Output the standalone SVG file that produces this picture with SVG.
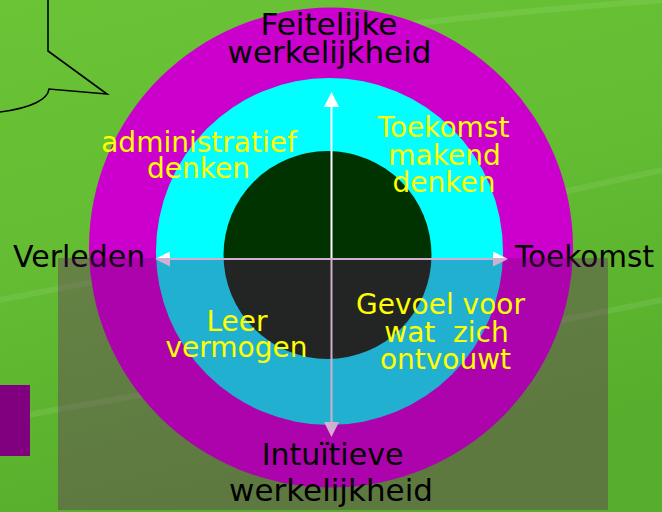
<svg xmlns="http://www.w3.org/2000/svg" width="662" height="512" viewBox="0 0 662 512">
  <defs>
    <linearGradient id="bg" x1="0" y1="0" x2="0.3" y2="1">
      <stop offset="0" stop-color="#6BC436"/>
      <stop offset="0.5" stop-color="#63BC32"/>
      <stop offset="1" stop-color="#57AE2C"/>
    </linearGradient>
    <marker id="ah" viewBox="0 0 10 10" refX="5.33" refY="5" markerWidth="15" markerHeight="15" markerUnits="userSpaceOnUse" orient="auto-start-reverse">
      <path d="M0,0 L10,5 L0,10 Z" fill="#FFFFFF"/>
    </marker>
    <style>
      .lbl { font-family: "DejaVu Sans", "Liberation Sans", sans-serif; fill: #000000; text-anchor: middle; }
      .ylw { font-family: "DejaVu Sans", "Liberation Sans", sans-serif; fill: #FFFF00; text-anchor: middle; font-size: 28px; }
      .axis { stroke: #FFFFFF; stroke-width: 2; fill: none; marker-start: url(#ah); marker-end: url(#ah); }
    </style>
  </defs>

  <rect x="0" y="0" width="662" height="512" fill="url(#bg)"/>
  <g opacity="0.08" stroke="#FFFFFF" stroke-width="6" fill="none">
    <path d="M0,300 C200,260 400,230 662,170"/>
    <path d="M0,420 C220,380 420,350 662,300"/>
    <path d="M300,40 C420,20 540,10 662,0"/>
  </g>

  <rect id="purple-block" x="0" y="385" width="30" height="71" fill="#800080"/>

  <path id="speech-bubble" d="M48,0 L48,51 L107,94 L49,89 C48,99 32,108 0,112" fill="none" stroke="#000000" stroke-width="1.6"/>

  <g id="rings">
    <ellipse id="outer-ring" cx="331" cy="247.5" rx="242" ry="240" fill="#CC00CC"/>
    <circle id="middle-ring" cx="329.5" cy="251.5" r="173.5" fill="#00FFFF"/>
    <circle id="core" cx="327.5" cy="255" r="104" fill="#003300"/>
  </g>

  <g id="connectors">
    <path id="axis-vertical" class="axis" d="M331.5,99 L331.5,430"/>
    <path id="axis-horizontal" class="axis" d="M162,259 L501,259"/>
  </g>

  <g id="label-verleden">
    <text class="lbl" x="13" y="267" font-size="30" style="text-anchor:start">Verleden</text>
  </g>
  <g id="label-toekomst">
    <text class="lbl" x="515" y="267" font-size="29.5" style="text-anchor:start">Toekomst</text>
  </g>

  <rect id="overlay" x="58" y="258" width="550" height="252" fill="rgb(106,9,109)" fill-opacity="0.32"/>

  <g id="label-feitelijke">
    <text class="lbl" x="329" y="35" font-size="31">Feitelijke</text>
    <text class="lbl" x="329.5" y="63" font-size="31">werkelijkheid</text>
  </g>
  <g id="label-intuitieve">
    <text class="lbl" x="332.5" y="465" font-size="30">Intuïtieve</text>
    <text class="lbl" x="331" y="501" font-size="31">werkelijkheid</text>
  </g>

  <g id="q-administratief">
    <text class="ylw" x="199" y="152">administratief</text>
    <text class="ylw" x="198.5" y="178">denken</text>
  </g>
  <g id="q-toekomst-makend">
    <text class="ylw" x="443.5" y="137">Toekomst</text>
    <text class="ylw" x="444.5" y="165">makend</text>
    <text class="ylw" x="444" y="192">denken</text>
  </g>
  <g id="q-leer-vermogen">
    <text class="ylw" x="237" y="331">Leer</text>
    <text class="ylw" x="236.5" y="357">vermogen</text>
  </g>
  <g id="q-gevoel">
    <text class="ylw" x="440.5" y="314">Gevoel voor</text>
    <text class="ylw" x="446.5" y="342" xml:space="preserve">wat  zich</text>
    <text class="ylw" x="445.5" y="369">ontvouwt</text>
  </g>
</svg>
